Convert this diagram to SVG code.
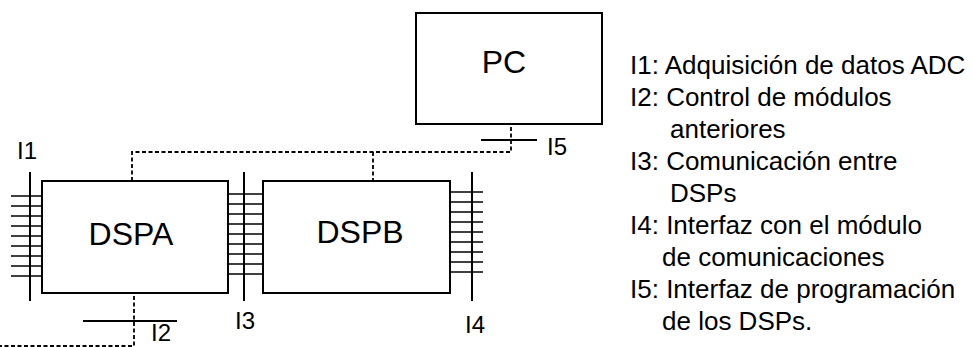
<svg xmlns="http://www.w3.org/2000/svg" width="972" height="347" viewBox="0 0 972 347">
<style>
.box{fill:#fff;stroke:#000;stroke-width:2}
.ln{stroke:#000;stroke-width:2;fill:none}
.tk{stroke:#000;stroke-width:1.6;fill:none}
.dash{stroke:#000;stroke-width:1.8;fill:none;stroke-dasharray:4 2.5}
.big{font-family:"Liberation Sans",Arial,sans-serif;font-size:32px;fill:#000;text-anchor:middle}
.lbl{font-family:"Liberation Sans",Arial,sans-serif;font-size:24px;fill:#000}
.leg{font-family:"Liberation Sans",Arial,sans-serif;font-size:26px;fill:#000}
</style>
<rect width="972" height="347" fill="#fff"/>
<g id="connectors">
<path class="dash" d="M132 181 V152 H511 V124"/>
<path class="dash" d="M373 152 V181"/>
<path class="dash" d="M134 296 V346 H0"/>
</g>
<g id="PC">
<rect class="box" x="416" y="13" width="186" height="111"/>
<text class="big" x="504" y="73">PC</text>
</g>
<g id="DSPA">
<rect class="box" x="42" y="181" width="186" height="112"/>
<text class="big" x="131" y="245">DSPA</text>
</g>
<g id="DSPB">
<rect class="box" x="263" y="181" width="187" height="112"/>
<text class="big" x="360" y="243">DSPB</text>
</g>
<g id="I1">
<path class="ln" d="M30 172 V301"/>
<path class="tk" d="M11 196 H42 M11 206 H42 M11 216 H42 M11 226 H42 M11 236 H42 M11 246 H42 M11 256 H42 M11 266 H42 M11 276 H42"/>
<text class="lbl" x="17" y="159">I1</text>
</g>
<g id="I2">
<path class="ln" d="M83 321 H177"/>
<text class="lbl" x="151" y="341">I2</text>
</g>
<g id="I3">
<path class="ln" d="M244 172 V301"/>
<path class="tk" d="M228 194 H263 M228 204 H263 M228 214 H263 M228 224 H263 M228 234 H263 M228 244 H263 M228 254 H263 M228 264 H263 M228 274 H263"/>
<text class="lbl" x="235" y="329">I3</text>
</g>
<g id="I4">
<path class="ln" d="M472 172 V301"/>
<path class="tk" d="M450 192 H483 M450 202 H483 M450 212 H483 M450 222 H483 M450 232 H483 M450 242 H483 M450 252 H483 M450 262 H483 M450 272 H483"/>
<text class="lbl" x="465" y="333">I4</text>
</g>
<g id="I5">
<path class="ln" d="M481 140 H537"/>
<text class="lbl" x="547" y="155">I5</text>
</g>
<g id="legend">
<text class="leg" x="630" y="74">I1: Adquisición de datos ADC</text>
<text class="leg" x="630" y="106">I2: Control de módulos</text>
<text class="leg" x="670" y="138">anteriores</text>
<text class="leg" x="630" y="170">I3: Comunicación entre</text>
<text class="leg" x="670" y="202">DSPs</text>
<text class="leg" x="630" y="234">I4: Interfaz con el módulo</text>
<text class="leg" x="662" y="266">de comunicaciones</text>
<text class="leg" x="630" y="298">I5: Interfaz de programación</text>
<text class="leg" x="662" y="330">de los DSPs.</text>
</g>
</svg>
